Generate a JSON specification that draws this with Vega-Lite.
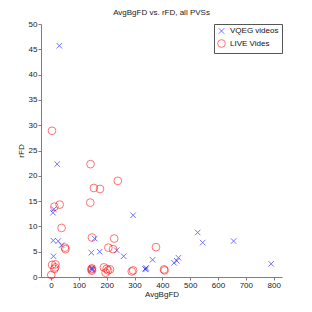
{
  "$schema": "https://vega.github.io/schema/vega-lite/v6.json",
  "width": 241,
  "height": 253,
  "autosize": "none",
  "padding": {"left": 41, "top": 24, "right": 30, "bottom": 35},
  "background": "white",
  "config": {
    "font": "Liberation Sans",
    "view": {"stroke": null},
    "axis": {"grid": false, "domainColor": "#7f7f7f", "tickColor": "#7f7f7f", "labelColor": "#222", "titleColor": "#222", "labelFontSize": 8, "titleFontSize": 8, "titleFontWeight": "normal", "tickSize": 3, "labelPadding": 1}
  },
  "title": {"text": "AvgBgFD vs. rFD, all PVSs", "fontSize": 8, "fontWeight": "normal", "color": "#222", "offset": 3},
  "data": {
    "values": [
      {"g": "VQEG videos", "x": 30, "y": 45.7},
      {"g": "VQEG videos", "x": 22, "y": 22.3},
      {"g": "VQEG videos", "x": 10, "y": 13.4},
      {"g": "VQEG videos", "x": 7, "y": 12.7},
      {"g": "VQEG videos", "x": 8, "y": 7.2},
      {"g": "VQEG videos", "x": 26, "y": 7.1},
      {"g": "VQEG videos", "x": 38, "y": 6.3},
      {"g": "VQEG videos", "x": 9, "y": 4.1},
      {"g": "VQEG videos", "x": 157, "y": 7.6},
      {"g": "VQEG videos", "x": 145, "y": 4.8},
      {"g": "VQEG videos", "x": 175, "y": 5.0},
      {"g": "VQEG videos", "x": 236, "y": 5.3},
      {"g": "VQEG videos", "x": 261, "y": 4.1},
      {"g": "VQEG videos", "x": 295, "y": 12.2},
      {"g": "VQEG videos", "x": 146, "y": 1.6},
      {"g": "VQEG videos", "x": 148, "y": 1.4},
      {"g": "VQEG videos", "x": 147, "y": 1.8},
      {"g": "VQEG videos", "x": 338, "y": 1.6},
      {"g": "VQEG videos", "x": 341, "y": 1.5},
      {"g": "VQEG videos", "x": 342, "y": 1.8},
      {"g": "VQEG videos", "x": 365, "y": 3.4},
      {"g": "VQEG videos", "x": 527, "y": 8.8},
      {"g": "VQEG videos", "x": 545, "y": 6.8},
      {"g": "VQEG videos", "x": 656, "y": 7.1},
      {"g": "VQEG videos", "x": 791, "y": 2.6},
      {"g": "VQEG videos", "x": 458, "y": 3.8},
      {"g": "VQEG videos", "x": 452, "y": 3.2},
      {"g": "VQEG videos", "x": 442, "y": 2.8},
      {"g": "LIVE Vides", "x": 3.5, "y": 28.9},
      {"g": "LIVE Vides", "x": 142, "y": 22.3},
      {"g": "LIVE Vides", "x": 154, "y": 17.6},
      {"g": "LIVE Vides", "x": 176, "y": 17.4},
      {"g": "LIVE Vides", "x": 141, "y": 14.7},
      {"g": "LIVE Vides", "x": 240, "y": 19.0},
      {"g": "LIVE Vides", "x": 12, "y": 13.9},
      {"g": "LIVE Vides", "x": 31, "y": 14.3},
      {"g": "LIVE Vides", "x": 38, "y": 9.7},
      {"g": "LIVE Vides", "x": 50, "y": 5.8},
      {"g": "LIVE Vides", "x": 52, "y": 5.5},
      {"g": "LIVE Vides", "x": 147, "y": 7.8},
      {"g": "LIVE Vides", "x": 206, "y": 5.8},
      {"g": "LIVE Vides", "x": 223, "y": 5.5},
      {"g": "LIVE Vides", "x": 227, "y": 7.6},
      {"g": "LIVE Vides", "x": 4, "y": 2.4},
      {"g": "LIVE Vides", "x": 16, "y": 2.5},
      {"g": "LIVE Vides", "x": 12, "y": 1.6},
      {"g": "LIVE Vides", "x": 15, "y": 1.9},
      {"g": "LIVE Vides", "x": 1, "y": 0.4},
      {"g": "LIVE Vides", "x": 147, "y": 1.7},
      {"g": "LIVE Vides", "x": 147, "y": 1.25},
      {"g": "LIVE Vides", "x": 145, "y": 1.5},
      {"g": "LIVE Vides", "x": 190, "y": 1.9},
      {"g": "LIVE Vides", "x": 200, "y": 1.6},
      {"g": "LIVE Vides", "x": 212, "y": 1.5},
      {"g": "LIVE Vides", "x": 196, "y": 0.85},
      {"g": "LIVE Vides", "x": 205, "y": 1.3},
      {"g": "LIVE Vides", "x": 295, "y": 1.3},
      {"g": "LIVE Vides", "x": 290, "y": 1.1},
      {"g": "LIVE Vides", "x": 377, "y": 5.9},
      {"g": "LIVE Vides", "x": 406, "y": 1.5},
      {"g": "LIVE Vides", "x": 408, "y": 1.3}
    ]
  },
  "mark": {"type": "point", "filled": false, "strokeWidth": 1, "opacity": 0.55},
  "encoding": {
    "x": {"field": "x", "type": "quantitative", "title": "AvgBgFD", "scale": {"domain": [-36, 830], "nice": false, "zero": false}, "axis": {"values": [0, 100, 200, 300, 400, 500, 600, 700, 800], "titlePadding": 1}},
    "y": {"field": "y", "type": "quantitative", "title": "rFD", "scale": {"domain": [0, 50], "nice": false}, "axis": {"values": [0, 5, 10, 15, 20, 25, 30, 35, 40, 45, 50], "titlePadding": 3}},
    "color": {"field": "g", "type": "nominal", "scale": {"domain": ["VQEG videos", "LIVE Vides"], "range": ["#0000ff", "#ff0000"]}, "legend": {"title": null, "orient": "top-right", "offset": 0, "strokeColor": "#555", "padding": 3, "labelFontSize": 8, "labelColor": "#111", "rowPadding": 1, "symbolStrokeWidth": 1, "symbolOpacity": 0.55, "symbolSize": 50, "fillColor": "white"}},
    "shape": {"field": "g", "type": "nominal", "scale": {"domain": ["VQEG videos", "LIVE Vides"], "range": ["M-1,-1L1,1M-1,1L1,-1", "circle"]}},
    "size": {"field": "g", "type": "nominal", "scale": {"domain": ["VQEG videos", "LIVE Vides"], "range": [30, 60]}, "legend": null}
  }
}
